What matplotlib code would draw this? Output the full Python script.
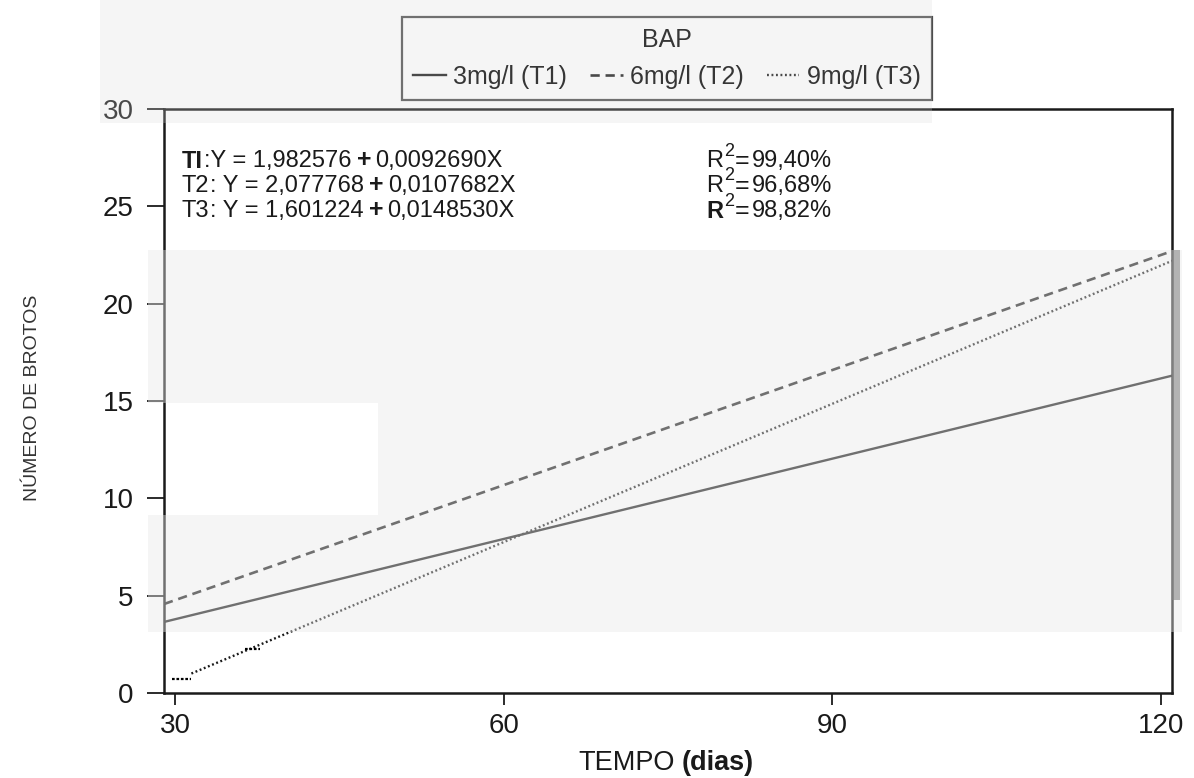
from matplotlib import pyplot as plt
from matplotlib.patches import Rectangle

plt.rcParams['font.family'] = ['Liberation Sans', 'DejaVu Sans']

# data (line end points)
dias = [29, 121]
t1 = [3.65, 16.3]
t2 = [4.57, 22.7]
t3_dias = [31.5, 121]
t3 = [1.0, 22.2]
# darker bits of the dotted line near the origin
t3_dash1_x = [29.7, 31.5]
t3_dash1_y = [0.72, 0.72]
t3_dash2_x = [36.4, 37.8]
t3_dash2_y = [2.26, 2.26]

legend_labels = ['3mg/l (T1)', '6mg/l (T2)', '9mg/l (T3)']
eq_names = ['TI', 'T2', 'T3']
eq_a = [':Y = 1,982576', ': Y = 2,077768', ': Y = 1,601224']
eq_b = ['0,0092690X', '0,0107682X', '0,0148530X']
r2 = ['99,40%', '96,68%', '98,82%']
xticks = [30, 60, 90, 120]
yticks = [0, 5, 10, 15, 20, 25, 30]

W, H = 1194, 778


def fx(px):
    return px / W


def fy(py):
    return 1 - py / H


fig = plt.figure(figsize=(W / 100, H / 100), dpi=100)
ax = fig.add_axes([fx(164), fy(693), (1172 - 164) / W, (693 - 109) / H])
renderer = fig.canvas.get_renderer()

ink = '#1a1a1a'
l1, = ax.plot(dias, t1, color=ink, lw=1.7, label=legend_labels[0])
l2, = ax.plot(dias, t2, color=ink, lw=1.9, dashes=(3.5, 2.2), label=legend_labels[1])
l3, = ax.plot(t3_dias, t3, color=ink, lw=1.7, dashes=(0.8, 1.1), label=legend_labels[2])
ax.plot(t3_dash1_x, t3_dash1_y, color='black', lw=1.6, dashes=(1.2, 0.8))
ax.plot(t3_dash2_x, t3_dash2_y, color='black', lw=1.6, dashes=(1.2, 0.8))

ax.set_xlim(29, 121)
ax.set_ylim(0, 30)
ax.set_xticks(xticks)
ax.set_yticks(yticks)
ax.tick_params(axis='y', direction='out', length=12, width=1.3, pad=10,
               labelsize=20, colors=ink)
ax.tick_params(axis='x', direction='out', length=8.5, width=1.3, pad=6,
               labelsize=20, colors=ink)
for s in ax.spines.values():
    s.set_linewidth(1.8)
    s.set_color(ink)

# legend box at the top
leg = fig.legend(handles=[l1, l2, l3], labels=legend_labels, title='BAP',
                 ncol=3, loc='lower left', mode='expand', borderaxespad=0,
                 bbox_to_anchor=(fx(402), fy(100), (932 - 402) / W, (100 - 12) / H),
                 fontsize=18, title_fontsize=18, frameon=True, fancybox=False,
                 edgecolor='#222', handlelength=1.3, handletextpad=0.3,
                 columnspacing=1.0, borderpad=0.45, labelspacing=0.5)
leg.get_frame().set_linewidth(1.6)


def flow(x_px, y_px, pieces):
    # put text pieces one after the other on a row
    x = x_px
    for s, size, weight, gap, raise_px in pieces:
        x += gap
        t = fig.text(fx(x), fy(y_px - raise_px), s, fontsize=size, fontweight=weight,
                     va='center', ha='left', color=ink)
        x = t.get_window_extent(renderer).x1


# regression equations
rows_y = [161, 186, 211]
for i in range(3):
    flow(182, rows_y[i], [
        (eq_names[i], 17, 'bold' if i == 0 else 'normal', 0, 0),
        (eq_a[i], 17, 'normal', 1, 0),
        ('+', 18, 'bold', 5, 1),
        (eq_b[i], 17, 'normal', 4, 0),
    ])
    flow(706, rows_y[i], [
        ('R', 17, 'bold' if i == 2 else 'normal', 0, 0),
        ('2', 13, 'normal', 1, 10),
        ('=', 18, 'normal', 1, 0),
        (r2[i], 17, 'normal', 2, 0),
    ])

# axis titles
flow(578, 763, [('TEMPO', 19.5, 'normal', 0, 0), ('(dias)', 19.5, 'bold', 7, 0)])
fig.text(fx(33), fy(398), 'NÚMERO DE BROTOS', fontsize=14, rotation=90,
         va='center', ha='center', color='#333333')


# light grey scan patches lying over the drawing
def patch(x0, y0, x1, y1, c, a):
    fig.add_artist(Rectangle((fx(x0), fy(y1)), (x1 - x0) / W, (y1 - y0) / H,
                             transform=fig.transFigure, facecolor=c, alpha=a,
                             edgecolor='none', zorder=10))


patch(100, 0, 932, 123, '#d8d8d8', 0.25)
patch(148, 250, 1182, 403, '#e8e8e8', 0.42)
patch(378, 403, 1182, 515, '#e8e8e8', 0.42)
patch(148, 515, 1182, 632, '#e8e8e8', 0.42)
patch(1172, 250, 1180, 600, '#888888', 0.6)

fig.savefig('out.png', dpi=100)
